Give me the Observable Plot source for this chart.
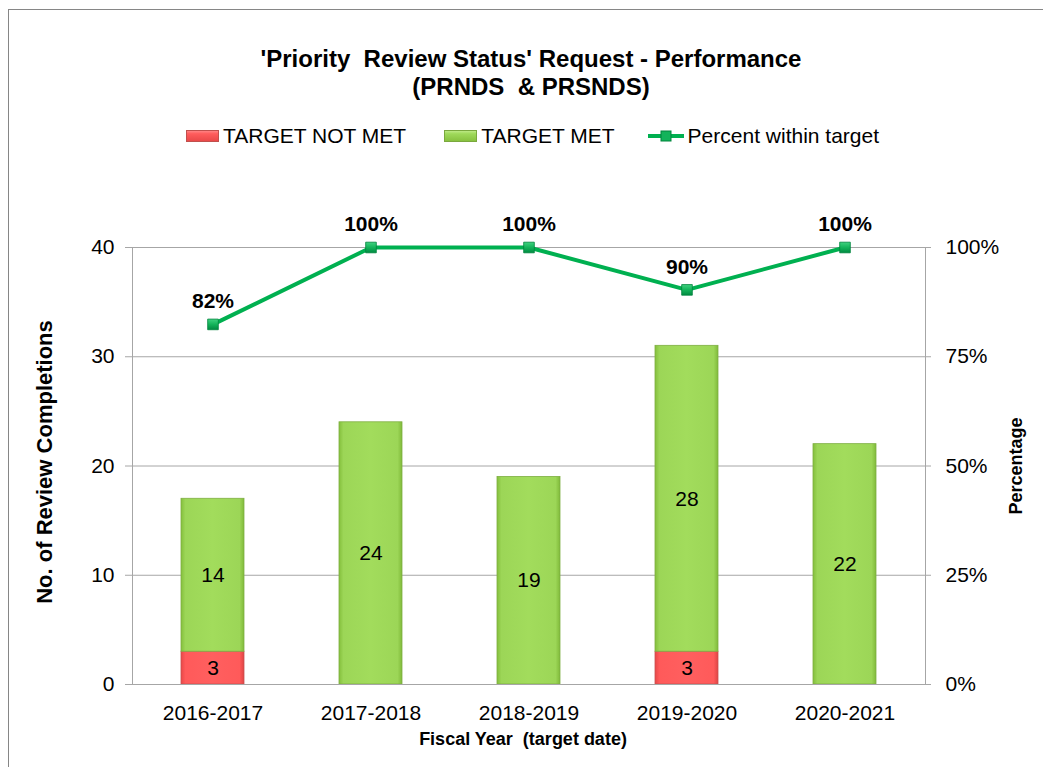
<!DOCTYPE html>
<html>
<head>
<meta charset="utf-8">
<script src="https://cdn.jsdelivr.net/npm/d3@7"></script>
<script src="https://cdn.jsdelivr.net/npm/@observablehq/plot@0.6"></script>
<style>
  html, body { margin: 0; padding: 0; background: #fff; }
  #page { position: relative; width: 1043px; height: 767px; font-family: "Liberation Sans", Arial, sans-serif; overflow: hidden; }
  #border { position: absolute; left: 8px; top: 9px; width: 1040px; height: 766px; border: 1px solid #868686; box-sizing: border-box; }
  #title { position: absolute; left: 0; top: 45px; width: 1062px; text-align: center; font-weight: bold; font-size: 24px; line-height: 28px; color: #000; white-space: pre; }
  #legend { position: absolute; left: 186px; top: 124px; height: 24px; display: flex; align-items: center; font-size: 21px; color: #000; white-space: nowrap; }
  #legend .item { display: flex; align-items: center; }
  #legend svg { margin-right: 4px; }
  #chart { position: absolute; left: 0; top: 200px; }
</style>
</head>
<body>
<div id="page">
  <div id="border"></div>
  <div id="title"></div>
  <div id="legend"></div>
  <div id="chart"></div>
</div>
<script>
// ---- Data ----
const titleLines = ["'Priority  Review Status' Request - Performance", "(PRNDS  & PRSNDS)"];
const years = ["2016-2017", "2017-2018", "2018-2019", "2019-2020", "2020-2021"];
const targetNotMet = [3, 0, 0, 3, 0];
const targetMet = [14, 24, 19, 28, 22];
const percentWithin = [82.4, 100, 100, 90.3, 100];
const percentLabels = ["82%", "100%", "100%", "90%", "100%"];
const countTicks = [0, 10, 20, 30, 40];
const percentTickLabels = ["0%", "25%", "50%", "75%", "100%"];
const seriesNames = ["TARGET NOT MET", "TARGET MET", "Percent within target"];
const axisTitles = {x: "Fiscal Year  (target date)", yLeft: "No. of Review Completions", yRight: "Percentage"};

const rows = years.map((year, i) => ({
  year,
  notMet: targetNotMet[i],
  met: targetMet[i],
  total: targetNotMet[i] + targetMet[i],
  pct: percentWithin[i],
  pctLabel: percentLabels[i]
}));
const yMax = countTicks[countTicks.length - 1];
const pctToY = p => p * yMax / 100;

// ---- Title & legend ----
document.getElementById("title").textContent = titleLines.join("\n");
const legend = document.getElementById("legend");
const swatches = [
  `<svg width="33" height="14"><rect x="0.5" y="1.5" width="32" height="11" fill="url(#lgRed)" stroke="#c0504d"/></svg>`,
  `<svg width="33" height="14"><rect x="0.5" y="1.5" width="32" height="11" fill="url(#lgGreen)" stroke="#7aa83e"/></svg>`,
  `<svg width="36" height="14"><line x1="0" x2="36" y1="7" y2="7" stroke="#00b050" stroke-width="4"/><rect x="13" y="2" width="10" height="10" fill="#12b35a" stroke="#00843d"/></svg>`
];
const gaps = [38, 33, 0];
legend.innerHTML = `<svg width="0" height="0" style="position:absolute"><defs>
  <linearGradient id="lgRed" x1="0" x2="0" y1="0" y2="1"><stop offset="0" stop-color="#ff8a8a"/><stop offset="0.3" stop-color="#ff5c5c"/><stop offset="1" stop-color="#e84848"/></linearGradient>
  <linearGradient id="lgGreen" x1="0" x2="0" y1="0" y2="1"><stop offset="0" stop-color="#c2ec8c"/><stop offset="0.3" stop-color="#9fd95a"/><stop offset="1" stop-color="#86c03e"/></linearGradient>
</defs></svg>` + seriesNames.map((name, i) =>
  `<div class="item" style="margin-right:${gaps[i]}px">${swatches[i]}<span>${name}</span></div>`).join("");

// ---- Chart ----
const defs = () => {
  const ns = "http://www.w3.org/2000/svg";
  const d = document.createElementNS(ns, "defs");
  d.innerHTML = `
    <linearGradient id="gGreen" x1="0" x2="1" y1="0" y2="0">
      <stop offset="0" stop-color="#84bf3c"/><stop offset="0.07" stop-color="#9cd657"/>
      <stop offset="0.5" stop-color="#a2dc5c"/><stop offset="0.93" stop-color="#9cd657"/>
      <stop offset="1" stop-color="#80ba3a"/>
    </linearGradient>
    <linearGradient id="gRed" x1="0" x2="1" y1="0" y2="0">
      <stop offset="0" stop-color="#e84848"/><stop offset="0.07" stop-color="#ff5a5a"/>
      <stop offset="0.5" stop-color="#ff5f5f"/><stop offset="0.93" stop-color="#ff5a5a"/>
      <stop offset="1" stop-color="#e04444"/>
    </linearGradient>
    <linearGradient id="gDot" x1="0" x2="0" y1="0" y2="1">
      <stop offset="0" stop-color="#3fd27f"/><stop offset="0.5" stop-color="#14b35a"/>
      <stop offset="1" stop-color="#008a40"/>
    </linearGradient>`;
  return d;
};

const chart = Plot.plot({
  width: 1043,
  height: 567,
  marginLeft: 132,
  marginRight: 118,
  marginTop: 47,
  marginBottom: 83,
  style: {fontFamily: "'Liberation Sans', Arial, sans-serif", background: "transparent", overflow: "visible", color: "#000"},
  x: {domain: years, paddingInner: 0.6, paddingOuter: 0.3, label: null},
  y: {domain: [0, yMax], label: null},
  marks: [
    defs,
    Plot.gridY(countTicks, {stroke: "#a6a6a6", strokeOpacity: 1}),
    Plot.barY(rows.filter(d => d.notMet > 0), {x: "year", y1: 0, y2: "notMet", fill: "url(#gRed)", stroke: "#c85050", strokeWidth: 0.8}),
    Plot.barY(rows, {x: "year", y1: "notMet", y2: "total", fill: "url(#gGreen)", stroke: "#7eae42", strokeWidth: 0.8}),
    Plot.frame({stroke: "#a6a6a6"}),
    Plot.text(rows.filter(d => d.notMet > 0), {x: "year", y: d => d.notMet / 2, text: d => String(d.notMet), fontSize: 21, fill: "#000"}),
    Plot.text(rows, {x: "year", y: d => d.notMet + d.met / 2, text: d => String(d.met), fontSize: 21, fill: "#000"}),
    Plot.line(rows, {x: "year", y: d => pctToY(d.pct), stroke: "#00b050", strokeWidth: 4}),
    Plot.dot(rows, {x: "year", y: d => pctToY(d.pct), symbol: "square", r: 6, fill: "url(#gDot)", stroke: "#00843d", strokeWidth: 0.8}),
    Plot.text(rows, {x: "year", y: d => pctToY(d.pct), text: "pctLabel", dy: -23, fontSize: 21, fontWeight: "bold", fill: "#000"}),
    Plot.axisY({anchor: "left", ticks: countTicks, tickSize: 7, tickPadding: 11, fontSize: 21, stroke: "#a6a6a6", fill: "#000", label: null}),
    Plot.axisY({anchor: "right", ticks: countTicks, tickFormat: (d, i) => percentTickLabels[i], tickSize: 5, tickPadding: 15, fontSize: 21, stroke: "#a6a6a6", fill: "#000", label: null}),
    Plot.axisX({anchor: "bottom", tickSize: 0, tickPadding: 21, fontSize: 21, fill: "#000", label: null}),
    Plot.text([axisTitles.yLeft], {frameAnchor: "left", textAnchor: "middle", dx: -88, dy: -4, rotate: -90, fontSize: 22, fontWeight: "bold", fill: "#000"}),
    Plot.text([axisTitles.yRight], {frameAnchor: "right", textAnchor: "middle", dx: 91, rotate: -90, fontSize: 18, fontWeight: "bold", fill: "#000"}),
    Plot.text([axisTitles.x], {frameAnchor: "bottom", dx: -6, dy: 60, fontSize: 18, fontWeight: "bold", fill: "#000"})
  ]
});
document.getElementById("chart").appendChild(chart);
</script>
</body>
</html>
